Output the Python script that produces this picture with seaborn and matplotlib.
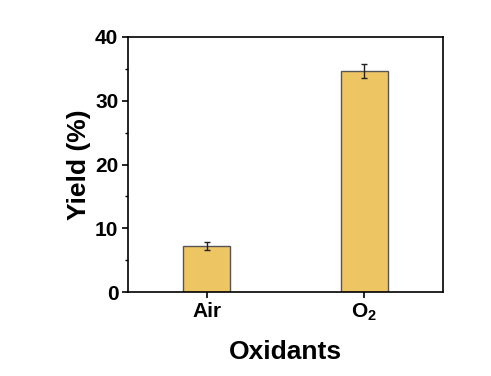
import matplotlib
matplotlib.use("Agg")
import matplotlib.pyplot as plt
import seaborn as sns
import pandas as pd
from matplotlib.ticker import MultipleLocator

categories = ["Air", "O$_2$"]
yields = [7.2, 34.6]
errors = [0.6, 1.1]

sns.set_style("ticks")
plt.rcParams['font.family'] = ['Liberation Sans', 'DejaVu Sans']
plt.rcParams['font.weight'] = 'bold'
plt.rcParams['text.color'] = 'black'
plt.rcParams['axes.labelcolor'] = 'black'
plt.rcParams['xtick.color'] = 'black'
plt.rcParams['ytick.color'] = 'black'
plt.rcParams['mathtext.fontset'] = 'custom'
plt.rcParams['mathtext.rm'] = 'Liberation Sans:bold'
plt.rcParams['mathtext.it'] = 'Liberation Sans:bold'
plt.rcParams['mathtext.bf'] = 'Liberation Sans:bold'

df = pd.DataFrame({"Oxidants": categories, "Yield": yields})

fig = plt.figure(figsize=(4.91, 3.76), dpi=100)
ax = fig.add_axes([128/491, 1-292/376, 315/491, 255/376])

sns.barplot(data=df, x="Oxidants", y="Yield", color="#EEC563", width=0.30,
            edgecolor="#555555", linewidth=1.0, saturation=1, ax=ax, errorbar=None)
ax.errorbar(range(len(categories)), yields, yerr=errors, fmt="none",
            ecolor="#222222", elinewidth=1.0, capsize=2.5, capthick=1.0)

ax.set_xlim(-0.5, 1.5)
ax.set_ylim(0, 40)
ax.yaxis.set_major_locator(MultipleLocator(10))
ax.yaxis.set_minor_locator(MultipleLocator(5))
for s in ax.spines.values():
    s.set_visible(True)
    s.set_linewidth(1.2)
    s.set_color("black")
ax.tick_params(axis="both", which="major", direction="out", length=4, width=1.2,
               labelsize=15, top=False, right=False, pad=3)
ax.tick_params(axis="y", which="minor", direction="out", length=2.5, width=1.0)
for lab in ax.get_xticklabels() + ax.get_yticklabels():
    lab.set_fontweight("bold")
ax.set_xlabel("Oxidants", fontsize=19, fontweight="bold", labelpad=12)
ax.set_ylabel("Yield (%)", fontsize=19, fontweight="bold", labelpad=3)

fig.savefig("out.png", dpi=100)
